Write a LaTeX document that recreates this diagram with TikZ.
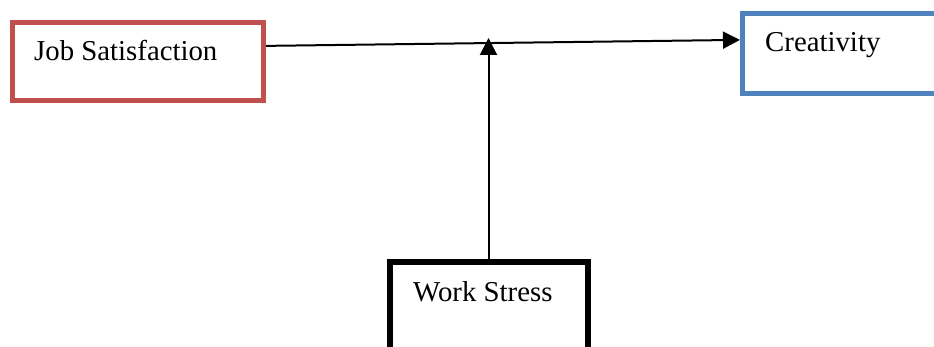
\documentclass[tikz,border=0pt]{standalone}
\usepackage{fontspec}
\setmainfont{Liberation Serif}
\usetikzlibrary{arrows.meta,calc}
\definecolor{boxred}{HTML}{C0504D}
\definecolor{boxblue}{HTML}{4F81BD}
\begin{document}
\begin{tikzpicture}[x=1pt,y=1pt,
  box/.style={draw,line width=5pt,rectangle,inner sep=0pt},
  lbl/.style={anchor=base west,inner sep=0pt,font=\fontsize{28.8}{34}\selectfont},
  conn/.style={line width=2pt,-{Triangle[length=17pt,width=17pt]}}]
\useasboundingbox (0,0) rectangle (934,347);
\clip (0,0) rectangle (934,347);
\node[box,draw=boxred,minimum width=251pt,minimum height=78.5pt] (js) at (138,285.25) {};
\node[box,draw=boxblue,minimum width=300pt,minimum height=80pt] (cr) at (892.5,293.5) {};
\node[box,draw=black,line width=6pt,minimum width=198pt,minimum height=120pt] (ws) at (488.5,24.5) {};
\node[lbl] (tjs) at (34,286) {Job Satisfaction};
\node[lbl] (tcr) at (765,295.3) {Creativity};
\node[lbl] (tws) at (413,45) {Work Stress};
\draw[conn] ($(js.north east)!0.31!(js.south east)$) -- ($(cr.north west)!0.34!(cr.south west)$);
\coordinate (mid) at (ws.north |- 0,309);
\draw[conn] (ws.north) -- (mid);
\end{tikzpicture}
\end{document}
